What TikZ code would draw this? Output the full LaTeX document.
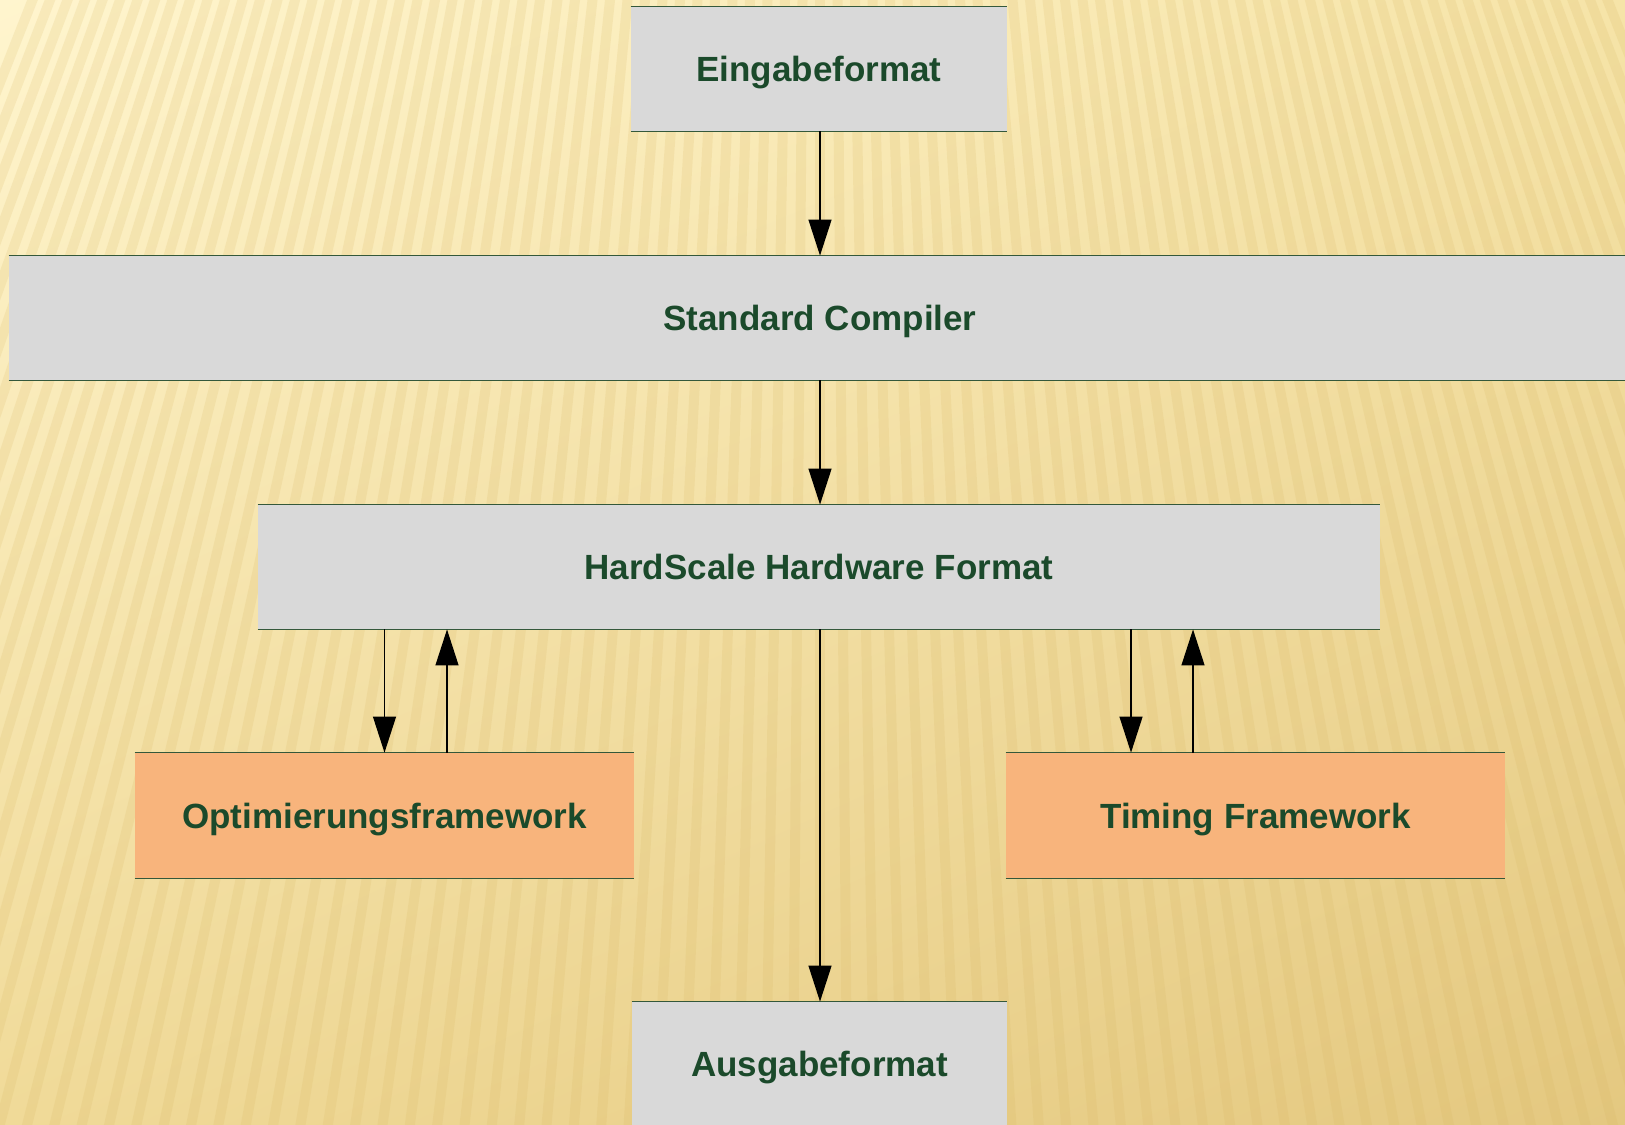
\documentclass[tikz,border=0pt]{standalone}
\usepackage{fontspec}
\setmainfont{Liberation Sans}
\usetikzlibrary{arrows.meta,calc,shadings}
\definecolor{bgUL}{RGB}{255,245,206}
\definecolor{bgUR}{RGB}{246,228,168}
\definecolor{bgLL}{RGB}{240,218,152}
\definecolor{bgLR}{RGB}{228,200,128}
\definecolor{stripe}{RGB}{215,180,95}
\definecolor{boxgray}{RGB}{217,217,217}
\definecolor{boxorange}{RGB}{248,180,124}
\definecolor{txtgreen}{RGB}{27,74,43}
\definecolor{rulegreen}{RGB}{52,88,58}
\tikzset{
  box/.style={rectangle, fill=boxgray, inner sep=0pt, minimum height=62pt,
    text height=12.6pt, text depth=0pt,
    font=\bfseries\fontsize{17.5}{21}\selectfont, text=txtgreen},
  obox/.style={box, fill=boxorange},
  rulel/.style={draw=rulegreen, line width=0.75pt},
  arr/.style={-{Triangle[length=18pt,width=11.5pt]}, line width=0.6pt, draw=black}
}
\begin{document}
\begin{tikzpicture}[x=0.5pt,y=-0.5pt]
\useasboundingbox (0,0) rectangle (1625,1124);
% background
\shade[upper left=bgUL, upper right=bgUR, lower left=bgLL, lower right=bgLR]
  (0pt,0pt) rectangle (812.5pt,-562pt);
\begin{scope}
\clip (0,0) rectangle (1625,1124);
\foreach \k in {-45,...,45}{
  \draw[stripe, opacity=0.17, line width=5pt] (820,-2000) -- (820+\k*28,1200);
}
\end{scope}
% nodes
\node[box, minimum width=188pt] (ein) at (819,69) {Eingabeformat};
\node[box, minimum width=811pt] (std) at (820,318) {Standard Compiler};
\node[box, minimum width=561pt] (hw) at (819,567) {HardScale Hardware Format};
\node[obox, minimum width=249.5pt, minimum height=62.5pt] (opt) at (384.5,815.5) {Optimierungsframework};
\node[obox, minimum width=249.5pt, minimum height=62.5pt] (tim) at (1255.5,815.5) {Timing Framework};
\node[box, minimum width=187.5pt] (aus) at (819.5,1064) {Ausgabeformat};
% top and bottom rules
\foreach \n in {ein,std,hw,opt,tim,aus}{
  \draw[rulel] (\n.north west) -- (\n.north east);
  \draw[rulel] (\n.south west) -- (\n.south east);
}
% connectors
\coordinate (cx) at (820,0);
\coordinate (oup) at ($(opt.north)+(62.5,0)$);
\coordinate (tdn) at ($(tim.north)+(-124.5,0)$);
\coordinate (tup) at ($(tim.north)+(-62.5,0)$);
\draw[arr] (ein.south -| cx) -- (std.north -| cx);
\draw[arr] (std.south -| cx) -- (hw.north -| cx);
\draw[arr] (hw.south -| cx) -- (aus.north -| cx);
\draw[arr] (hw.south -| opt.north) -- (opt.north);
\draw[arr] (oup) -- (hw.south -| oup);
\draw[arr] (hw.south -| tdn) -- (tdn);
\draw[arr] (tup) -- (hw.south -| tup);
\end{tikzpicture}
\end{document}
